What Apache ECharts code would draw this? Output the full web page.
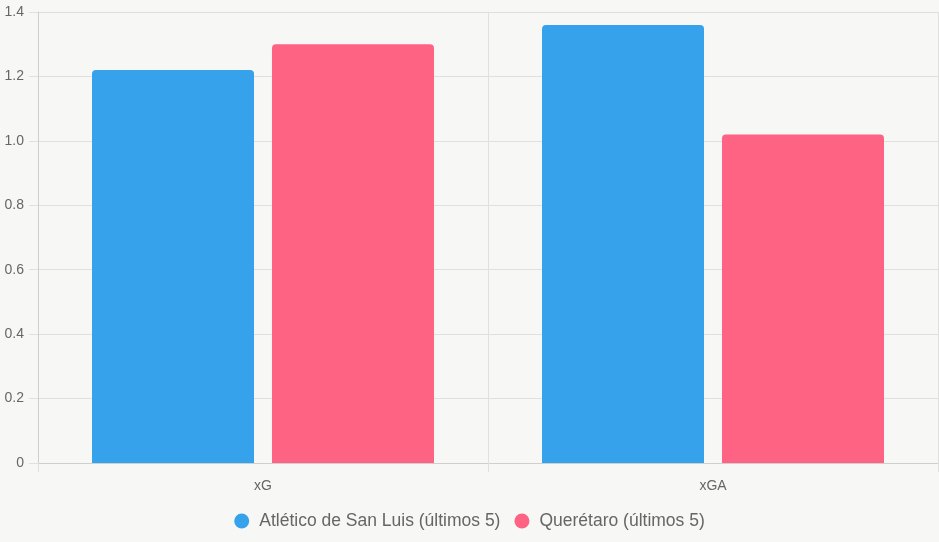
<!DOCTYPE html>
<html>
<head>
<meta charset="utf-8">
<script src="https://cdn.jsdelivr.net/npm/echarts@6/dist/echarts.min.js"></script>
<style>
  html, body { margin: 0; padding: 0; background: #f7f7f5; }
  #chart { width: 939px; height: 542px; }
</style>
</head>
<body>
<div id="chart"></div>
<script>
var categories = ['xG', 'xGA'];
var seriesNames = ['Atlético de San Luis (últimos 5)', 'Querétaro (últimos 5)'];
var sanLuis = [1.22, 1.36];
var queretaro = [1.30, 1.02];
var yTicks = [0, 0.2, 0.4, 0.6, 0.8, 1.0, 1.2, 1.4];

var myChart = echarts.init(document.getElementById('chart'));
var font = '"Liberation Sans", Arial, sans-serif';
var gridColor = '#e0e0de';

var option = {
    backgroundColor: '#f7f7f5',
    animation: false,
    textStyle: { fontFamily: font },
    grid: { left: 38, right: 1, top: 12, bottom: 79 },
    legend: {
        bottom: 7,
        left: 'center',
        icon: 'circle',
        itemWidth: 15,
        itemHeight: 15,
        itemGap: 14,
        textStyle: { color: '#666', fontSize: 17.5, fontFamily: font, padding: [0, 0, 0, 5] },
        data: seriesNames
    },
    xAxis: {
        type: 'category',
        data: categories,
        axisLine: { lineStyle: { color: '#cfcfcd', width: 1 } },
        axisTick: { show: true, length: 9, lineStyle: { color: gridColor } },
        splitLine: { show: true, lineStyle: { color: gridColor } },
        axisLabel: { color: '#666', fontSize: 14, margin: 16, fontFamily: font }
    },
    yAxis: {
        type: 'value',
        min: 0,
        max: yTicks[yTicks.length - 1],
        interval: 0.2,
        axisLine: { show: true, lineStyle: { color: '#cfcfcd' } },
        axisTick: { show: true, length: 9, lineStyle: { color: gridColor } },
        splitLine: { lineStyle: { color: gridColor } },
        axisLabel: {
            color: '#666', fontSize: 14, margin: 14, fontFamily: font,
            formatter: function (v) { return v === 0 ? '0' : v.toFixed(1); }
        }
    },
    series: [{
        name: seriesNames[0],
        type: 'bar',
        data: sanLuis,
        barWidth: 162,
        barGap: '11.1%',
        itemStyle: { color: '#36a2eb', borderRadius: [4, 4, 0, 0] }
    }, {
        name: seriesNames[1],
        type: 'bar',
        data: queretaro,
        barWidth: 162,
        barGap: '11.1%',
        itemStyle: { color: '#ff6384', borderRadius: [4, 4, 0, 0] }
    }]
};
myChart.setOption(option);
</script>
</body>
</html>
